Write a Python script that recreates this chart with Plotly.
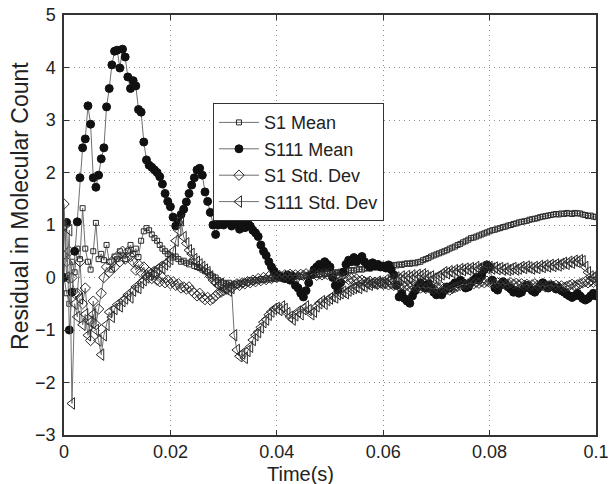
import numpy as np
import plotly.graph_objects as go

# sample times (s): 0 .. 0.1 every 0.5 ms
time_s = np.round(np.arange(201) * 0.0005, 4)

s111_mean = [
    0.0, 1.05, -1.0, -0.28, 0.5, 1.06, 1.9, 2.47, 2.64, 3.27,
    2.92, 1.9, 1.72, 1.95, 2.26, 2.47, 3.25, 3.6, 4.05, 4.31,
    4.33, 3.99, 4.35, 4.2, 3.82, 3.6, 3.75, 3.65, 3.2, 3.15,
    2.58, 2.24, 2.14, 2.1, 2.05, 2.0, 1.92, 1.78, 1.6, 1.45,
    1.35, 1.15, 0.98, 1.05, 1.2, 1.3, 1.44, 1.6, 1.76, 1.9,
    2.05, 2.08, 1.95, 1.63, 1.45, 1.24, 1.0, 0.82, 1.0, 1.08,
    1.0, 1.12, 1.05, 0.98, 1.1, 1.02, 0.92, 1.0, 0.95, 1.05,
    0.98, 0.9, 0.85, 0.78, 0.62, 0.5, 0.42, 0.3, 0.2, 0.12,
    0.05, 0.02, 0.0, -0.02, 0.05, -0.05, 0.02, -0.15, -0.2, -0.3,
    -0.37, -0.25, -0.1, 0.05, 0.15, 0.2, 0.25, 0.18, 0.3, 0.25,
    0.2, 0.0, -0.15, -0.24, -0.1, 0.1, 0.25, 0.33, 0.3, 0.38,
    0.3, 0.35, 0.4, 0.3, 0.25, 0.2, 0.28, 0.22, 0.25, 0.2,
    0.22, 0.18, 0.24, 0.15, 0.05, -0.15, -0.37, -0.3, -0.4, -0.45,
    -0.49, -0.35, -0.25, -0.18, -0.1, -0.15, -0.2, -0.12, -0.2, -0.28,
    -0.33, -0.3, -0.33, -0.25, -0.18, -0.2, -0.15, -0.1, -0.12, -0.05,
    -0.1, -0.2, -0.18, -0.1, -0.05, 0.0, -0.05, 0.05, 0.15, 0.24,
    0.2, -0.05, -0.2, -0.24, -0.15, -0.08, -0.12, -0.18, -0.22, -0.28,
    -0.25, -0.3, -0.28, -0.2, -0.15, -0.2, -0.25, -0.28, -0.22, -0.15,
    -0.1, -0.15, -0.2, -0.15, -0.18, -0.22, -0.2, -0.25, -0.28, -0.32,
    -0.35, -0.38, -0.35, -0.3, -0.35, -0.4, -0.43, -0.4, -0.35, -0.3, -0.35,
]

s1_mean = [
    0.0, -0.3, -0.5, 0.3, 0.1, 0.55, 0.35, 1.32, 0.55, 0.3,
    0.15, 0.5, 1.04, 0.35, 0.45, 0.33, 0.62, 0.3, 0.15, 0.4,
    0.35, 0.5, 0.42, 0.35, 0.5, 0.62, 0.45, 0.55, 0.39, 0.7,
    0.88, 0.94, 0.9, 0.82, 0.75, 0.7, 0.62, 0.55, 0.5, 0.45,
    0.42, 0.38, 0.4, 0.35, 0.3, 0.32, 0.28, 0.25, 0.3, 0.22,
    0.2, 0.18, 0.15, 0.12, 0.1, 0.05, 0.02, 0.0, -0.05, -0.08,
    -0.1, -0.12, -0.1, -0.15, -0.12, -0.15, -0.1, -0.12, -0.08, -0.1,
    -0.05, -0.08, -0.05, -0.06, -0.03, -0.05, -0.02, -0.04, -0.01, -0.03,
    0.0, -0.02, 0.0, 0.01, -0.01, 0.02, 0.0, 0.02, 0.03, 0.01,
    0.04, 0.03, 0.05, 0.04, 0.06, 0.05, 0.07, 0.06, 0.08, 0.07,
    0.08,
    0.08, 0.1, 0.09, 0.11, 0.12, 0.11, 0.13, 0.14, 0.13, 0.15,
    0.16, 0.15, 0.17, 0.18, 0.17, 0.19, 0.2, 0.19, 0.21, 0.22,
    0.21, 0.23, 0.22, 0.24, 0.23, 0.25, 0.24, 0.26, 0.27, 0.26,
    0.28, 0.27, 0.29, 0.3,
    0.33, 0.35, 0.37, 0.4, 0.42, 0.44, 0.46, 0.48, 0.5, 0.52, 0.55, 0.57, 0.59,
    0.62, 0.64, 0.67, 0.69, 0.72, 0.75,
    0.76, 0.78, 0.8, 0.82, 0.84, 0.86, 0.88, 0.9,
    0.91, 0.93, 0.94, 0.96, 0.97, 0.99, 1.0, 1.02, 1.03, 1.05, 1.06,
    1.07, 1.08, 1.1, 1.11, 1.12, 1.13, 1.15, 1.16, 1.17, 1.18, 1.19,
    1.2, 1.21, 1.2, 1.22, 1.21, 1.23, 1.22, 1.21, 1.23, 1.22, 1.22,
    1.2, 1.19, 1.17, 1.18, 1.16, 1.15,
]

s1_std = [
    1.4, 0.3, 0.5, 0.0, -0.3, -0.3, 0.3, -0.5, -0.2, -0.8,
    -1.2, -0.45, -0.9, -0.6, -0.3, 0.0, 0.2, 0.1, 0.3, 0.2,
    0.4, 0.3, 0.5, 0.35, 0.49, 0.4, 0.3, 0.14, 0.25, 0.1,
    0.2, 0.05, 0.1, -0.02, 0.05, -0.05, -0.08, 0.0, -0.1, -0.05,
    -0.12, -0.08, -0.15, -0.12, -0.2, -0.18, -0.22, -0.18, -0.25, -0.3,
    -0.35, -0.3, -0.38, -0.42, -0.38, -0.43, -0.4, -0.35, -0.3, -0.28,
    -0.25, -0.22, -0.18, -0.2, -0.15, -0.12, -0.15, -0.1, -0.12, -0.08,
    -0.1, -0.05, -0.08, -0.02, -0.06, 0.0, -0.04, 0.02, -0.02, 0.03,
    0.0, 0.04, 0.01, 0.05, 0.02, 0.06, 0.03, 0.05, 0.02, 0.06,
    0.04, 0.07, 0.03, 0.06, 0.08, 0.04, 0.07, 0.05, 0.08, 0.06,
    0.09,
    0.05, 0.03, 0.0, 0.02, -0.02, 0.0, -0.04, -0.02, -0.06, -0.03,
    -0.07, -0.05, -0.08, -0.1, -0.07, -0.11, -0.09, -0.12, -0.1, -0.13,
    -0.11, -0.14, -0.12, -0.15, -0.13, -0.16, -0.14, -0.17, -0.15, -0.18,
    -0.16, -0.19, -0.17, -0.2, -0.18, -0.21, -0.19, -0.2, -0.22, -0.19,
    -0.21, -0.18, -0.2, -0.22, -0.24, -0.21, -0.19, -0.17, -0.15, -0.13,
    -0.14, -0.12, -0.1, -0.12, -0.09, -0.11, -0.08, -0.1, -0.07, -0.09,
    -0.1, -0.12, -0.1, -0.13, -0.11, -0.14, -0.12, -0.1, -0.13, -0.11,
    -0.14, -0.12, -0.15, -0.13, -0.16, -0.14, -0.12, -0.15, -0.17, -0.15,
    -0.18, -0.16, -0.14, -0.17, -0.15, -0.18, -0.16, -0.19, -0.17, -0.15,
    -0.13, -0.16, -0.14, -0.12, -0.1, -0.08, -0.1, -0.07, -0.09, -0.06,
]

s111_std = [
    1.0, 0.0, 0.9, -2.4, -0.5, -0.75, -0.4, -0.9, -0.7, -1.1,
    -0.85, -0.7, -1.0, -1.2, -1.47, -1.1, -0.9, -0.66, -0.75, -0.6,
    -0.52, -0.55, -0.45, -0.4, -0.33, -0.38, -0.25, -0.18, -0.2, -0.1,
    -0.05, 0.0, 0.05, 0.1, 0.08, 0.15, 0.2, 0.18, 0.25, 0.3,
    0.35, 0.5, 0.7, 0.9, 1.09, 0.77, 0.65, 0.52, 0.45, 0.35,
    0.3, 0.25, 0.2, 0.15, 0.1, 0.02, -0.05, -0.1, -0.15, -0.12,
    -0.2, -0.22, -0.25, -0.2, -1.1, -1.38, -1.5, -1.45, -1.53, -1.4,
    -1.32, -1.19, -1.1, -1.04, -0.95, -0.85, -0.8, -0.71, -0.65, -0.6,
    -0.58, -0.62, -0.55, -0.6, -0.68, -0.75, -0.8, -0.72, -0.65, -0.7,
    -0.6, -0.55, -0.62, -0.7, -0.65, -0.55, -0.49, -0.45, -0.5, -0.43,
    -0.4, -0.36, -0.38, -0.32, -0.3, -0.27, -0.3, -0.25, -0.22, -0.2,
    -0.18, -0.2, -0.15, -0.17, -0.12, -0.14, -0.1, -0.12, -0.08, -0.1, -0.1,
    -0.05, -0.08, -0.03, -0.06, 0.0, -0.04, 0.02, -0.02, 0.03, 0.0,
    0.04, 0.01, 0.05, 0.02, 0.06, 0.03, 0.0, 0.02, -0.02, 0.0,
    0.03, 0.06, 0.1, 0.08, 0.12, 0.1, 0.14, 0.12, 0.16, 0.14,
    0.17, 0.15, 0.18, 0.16, 0.2, 0.17, 0.19, 0.21, 0.18, 0.2,
    0.17, 0.19, 0.16, 0.18, 0.15, 0.17, 0.14, 0.16, 0.18, 0.15,
    0.17, 0.2, 0.18, 0.21, 0.19, 0.17, 0.2, 0.18, 0.22, 0.2,
    0.23, 0.21, 0.24, 0.22, 0.25, 0.23, 0.26, 0.28, 0.26, 0.3,
    0.28, 0.32, 0.3, 0.33, 0.31, 0.2, 0.1, 0.02, 0.0, 0.02,
]

x_ticks = [0, 0.02, 0.04, 0.06, 0.08, 0.1]
x_tick_labels = ["0", "0.02", "0.04", "0.06", "0.08", "0.1"]
y_ticks = [-3, -2, -1, 0, 1, 2, 3, 4, 5]
x_title = "Time(s)"
y_title = "Residual in Molecular Count"

FONT = "Liberation Sans, Arial, Helvetica, sans-serif"
LINE = "#707070"
EDGE = "#2a2a2a"
TEXT = "#222222"

fig = go.Figure()
series = [
    ("S1 Mean", s1_mean, "square-open", 5, EDGE),
    ("S111 Mean", s111_mean, "circle", 8, "#111111"),
    ("S1 Std. Dev", s1_std, "diamond-open", 8, EDGE),
    ("S111 Std. Dev", s111_std, "triangle-left-open", 10, EDGE),
]
for name, vals, sym, size, col in series:
    fig.add_trace(go.Scatter(
        x=time_s, y=vals, name=name, mode="lines+markers",
        line=dict(color=LINE, width=1),
        marker=dict(symbol=sym, size=size, color=col,
                    line=dict(width=1, color=col)),
    ))

axis_common = dict(
    showline=True, mirror="ticks", linecolor="#333333", linewidth=1.5,
    ticks="inside", ticklen=5, tickcolor="#333333",
    showgrid=True, gridcolor="#8a8a8a", griddash="1px,4px", gridwidth=1,
    zeroline=False, automargin=False,
    tickfont=dict(family=FONT, size=18, color=TEXT),
)
fig.update_xaxes(range=[0, 0.1], tickvals=x_ticks, ticktext=x_tick_labels,
                 **axis_common)
fig.update_yaxes(range=[-3, 5], tickvals=y_ticks, ticklabelstandoff=3,
                 **axis_common)

fig.update_layout(
    width=610, height=484,
    margin=dict(l=64, r=14, t=15, b=49),
    paper_bgcolor="white", plot_bgcolor="white",
    font=dict(family=FONT, color=TEXT),
    legend=dict(x=0.28, y=0.79, xanchor="left", yanchor="top",
                bgcolor="white", bordercolor="#333333", borderwidth=1,
                font=dict(family=FONT, size=18, color=TEXT),
                itemwidth=40, tracegroupgap=0),
    showlegend=True,
    annotations=[
        dict(text=x_title, xref="paper", yref="paper", x=0.445, y=-0.092,
             xanchor="center", yanchor="middle", showarrow=False,
             font=dict(family=FONT, size=20, color=TEXT)),
        dict(text=y_title, xref="paper", yref="paper", x=-0.083, y=0.545,
             xanchor="center", yanchor="middle", showarrow=False, textangle=-90,
             font=dict(family=FONT, size=23, color=TEXT)),
    ],
)

fig.write_html("out.html", config={"displayModeBar": False},
               post_script="document.body.style.margin='0';")
